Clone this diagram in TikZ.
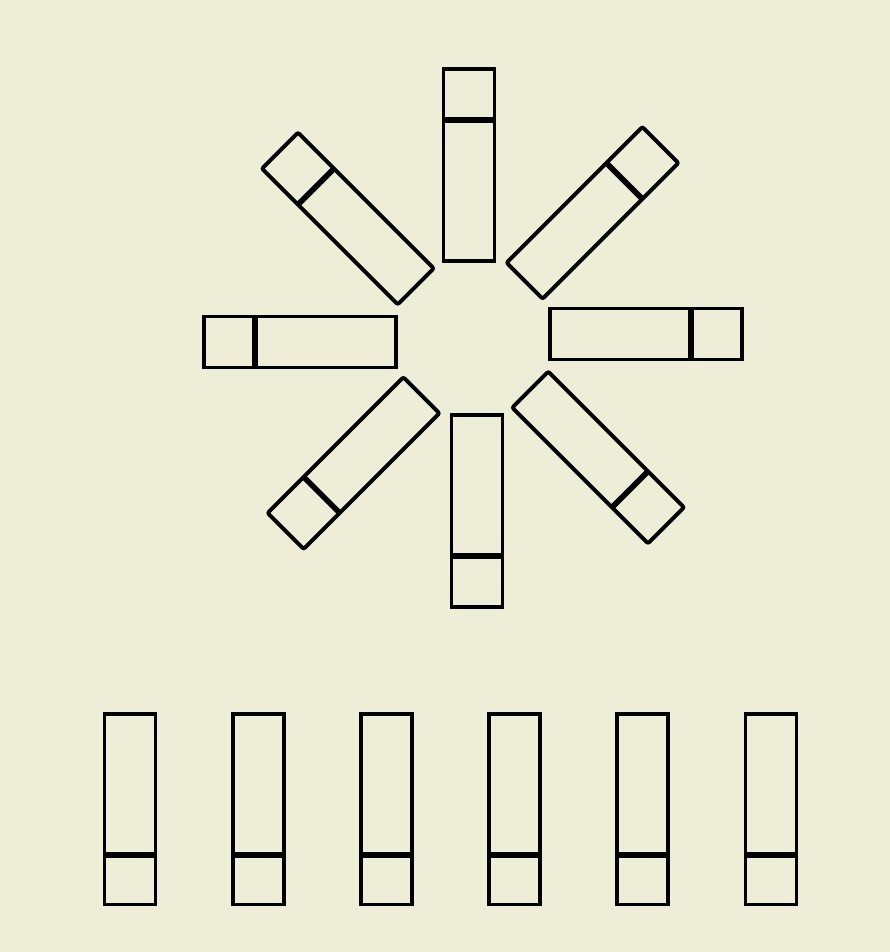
\documentclass[tikz,border=0pt]{standalone}
\definecolor{bgcol}{RGB}{237,237,216}
\begin{document}
\begin{tikzpicture}[x=1pt,y=1pt,
  box/.style={draw=black,line width=3.9pt},
  divider/.style={draw=black,line width=5.6pt}]
\fill[bgcol] (0,0) rectangle (890,952);
\useasboundingbox (0,0) rectangle (890,952);
% radial group, axis-aligned members
\foreach \k in {0,2,4,6}{
  \begin{scope}[shift={(473,614)},rotate=-45*\k]
    \draw[box] (-29.5,77) rectangle (21.5,269);
    \draw[divider] (-29.5,218) -- (21.5,218);
  \end{scope}
}
% radial group, diagonal members
\foreach \k in {1,3,5,7}{
  \begin{scope}[shift={(473,614)},rotate=-45*\k]
    \draw[box,rounded corners=2pt] (-29.5,77) rectangle (21.5,269);
    \draw[divider] (-29.5,218) -- (21.5,218);
  \end{scope}
}
% bottom row
\foreach \x in {130,258.2,386.4,514.6,642.8,771}{
  \draw[box] ({\x-25.5},47.5) rectangle ({\x+25.5},238);
  \draw[divider] ({\x-25.5},97) -- ({\x+25.5},97);
}
\end{tikzpicture}
\end{document}
